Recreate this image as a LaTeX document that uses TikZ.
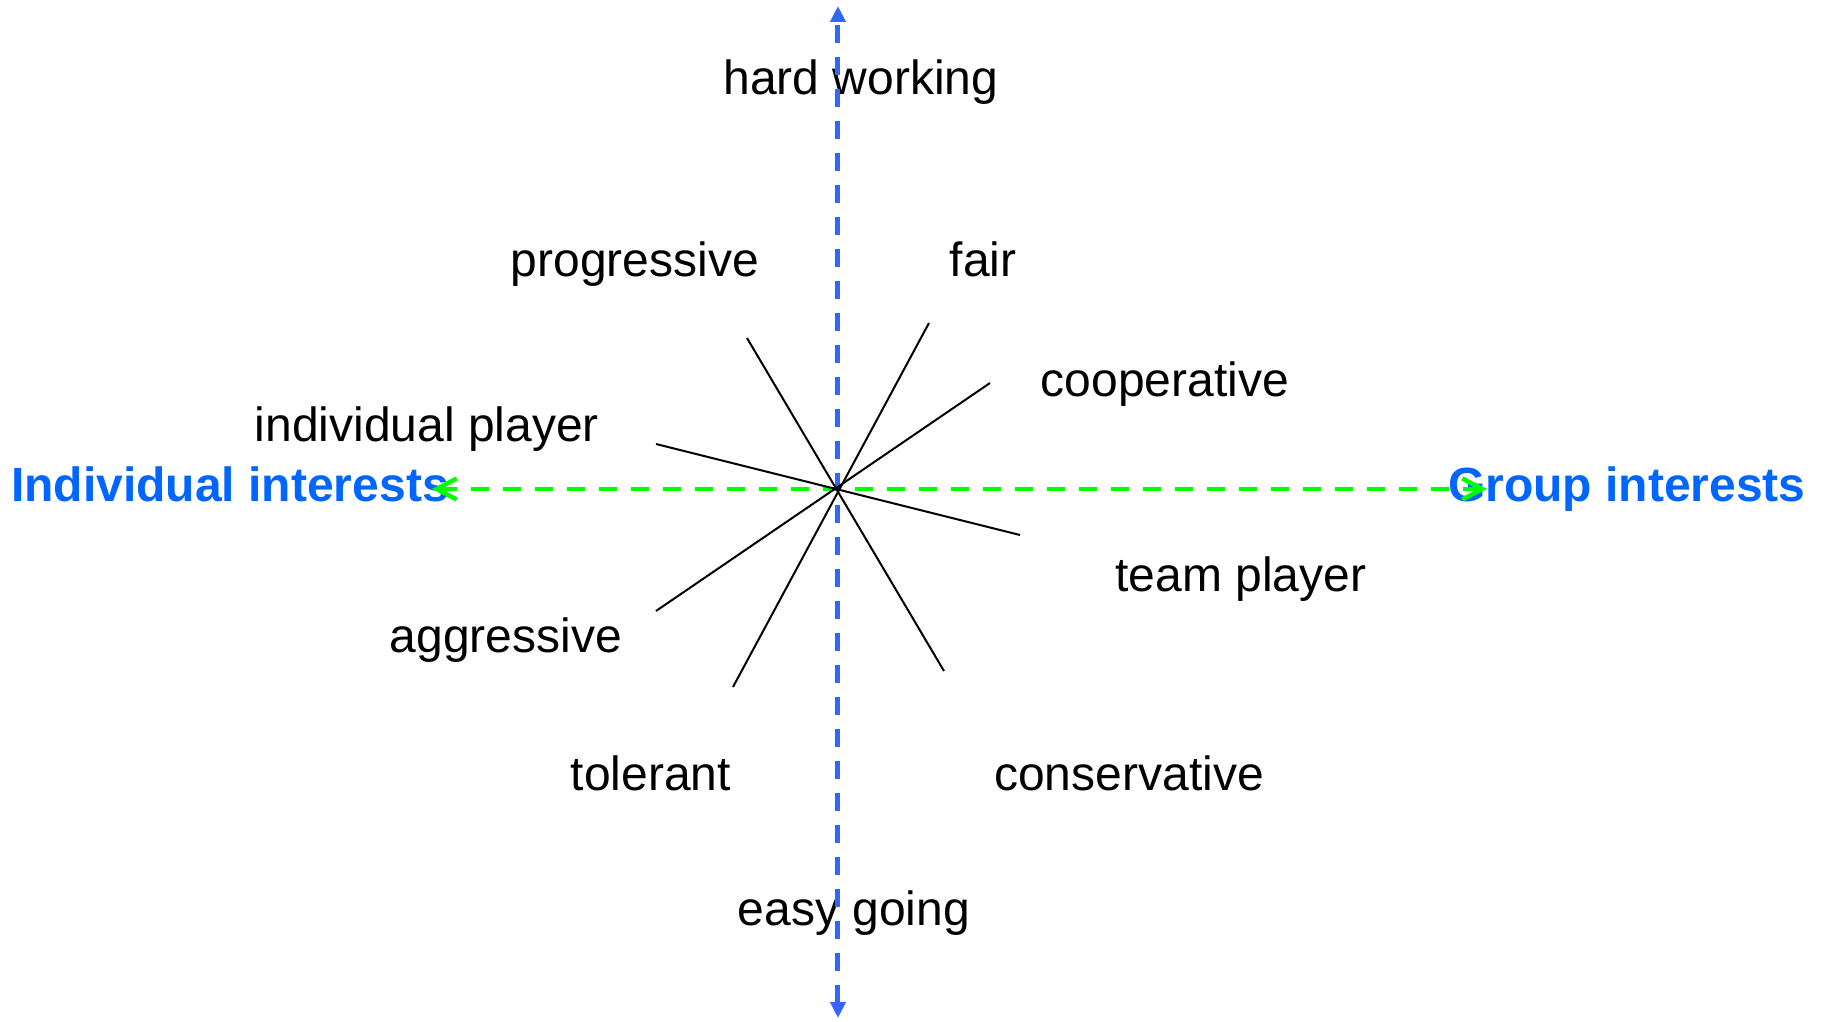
\documentclass[tikz,border=0pt]{standalone}
\usepackage{fontspec}
\setmainfont{Liberation Sans}
\usetikzlibrary{arrows.meta}
\definecolor{axisBlue}{RGB}{51,102,255}
\definecolor{poleBlue}{RGB}{0,102,255}
\definecolor{axisGreen}{RGB}{0,255,0}

\begin{document}
\begin{tikzpicture}[x=0.5pt,y=0.5pt,
    trait/.style={anchor=base,inner sep=0pt,font=\fontsize{24}{28}\selectfont},
    pole/.style={anchor=base,inner sep=0pt,text=poleBlue,font=\fontsize{24}{28}\selectfont\bfseries},
    spoke/.style={draw=black,line width=1pt},
    vaxis/.style={draw=axisBlue,line width=2.5pt,dash pattern=on 9pt off 7pt,
      {Triangle[length=8pt,width=7.5pt]}-{Triangle[length=8pt,width=7.5pt]}},
    haxis/.style={draw=axisGreen,line width=2.2pt,dash pattern=on 9pt off 7pt,
      {Straight Barb[length=10pt,width=10.5pt]}-{Straight Barb[length=10pt,width=10.5pt]}}
  ]
  \useasboundingbox (-838,-533) rectangle (984,489);

  % traits autour de l'origine
  \node[trait] (hard) at (23,394) {hard working};
  \node[trait] (prog) at (-203,212) {progressive};
  \node[trait] (fair) at (145,212) {fair};
  \node[trait] (coop) at (327,92) {cooperative};
  \node[trait] (indiv) at (-411,47) {individual player};
  \node[trait] (team) at (403,-103) {team player};
  \node[trait] (aggr) at (-332,-164) {aggressive};
  \node[trait] (tol) at (-187,-301) {tolerant};
  \node[trait] (cons) at (291,-301) {conservative};
  \node[trait] (easy) at (16,-437) {easy going};

  % les deux poles
  \node[pole] (ownPole) at (-608,-13) {Individual interests};
  \node[pole] (groupPole) at (789,-13) {Group interests};

  % axes
  \coordinate (c) at (0,0);
  \coordinate (vTop) at (0,483);
  \coordinate (vBot) at (0,-529);
  \coordinate (hLeft) at (-406,0);
  \coordinate (hRight) at (649,0);
  \draw[haxis] (hLeft) -- (hRight);
  \draw[vaxis] (vBot) -- (vTop);

  % rayons
  \coordinate (progEnd) at (-91,151);
  \coordinate (consEnd) at (106,-182);
  \coordinate (fairEnd) at (91,166);
  \coordinate (tolEnd) at (-105,-198);
  \coordinate (coopEnd) at (152,106);
  \coordinate (aggrEnd) at (-182,-122);
  \coordinate (indivEnd) at (-182,45);
  \coordinate (teamEnd) at (182,-46);
  \draw[spoke] (progEnd) -- (consEnd);
  \draw[spoke] (fairEnd) -- (tolEnd);
  \draw[spoke] (coopEnd) -- (aggrEnd);
  \draw[spoke] (indivEnd) -- (teamEnd);
\end{tikzpicture}
\end{document}
